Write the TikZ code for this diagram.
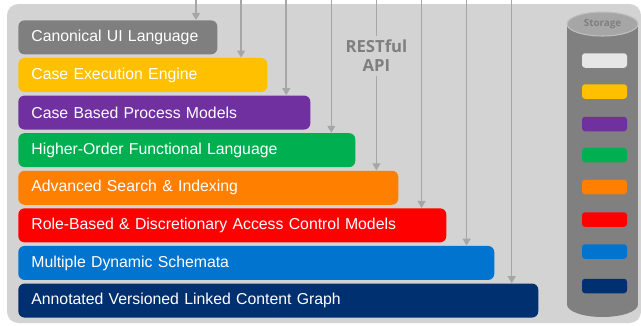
\documentclass[tikz,border=0pt]{standalone}
\usepackage{fontspec}
\setmainfont{Liberation Sans}
\newfontfamily\apifont{Open Sans}
\usetikzlibrary{arrows.meta}
\definecolor{bggray}{HTML}{D3D3D3}
\definecolor{linegray}{HTML}{A6A6A6}
\definecolor{restgray}{HTML}{7F7F7F}
\definecolor{uigray}{HTML}{7F7F7F}
\definecolor{engineyellow}{HTML}{FFC000}
\definecolor{processpurple}{HTML}{7030A0}
\definecolor{funcgreen}{HTML}{00B050}
\definecolor{searchorange}{HTML}{FF8000}
\definecolor{accessred}{HTML}{FF0000}
\definecolor{schemablue}{HTML}{0074CF}
\definecolor{graphnavy}{HTML}{003070}
\definecolor{slotwhite}{HTML}{E6E6E6}
\definecolor{drumgray}{HTML}{808080}
\definecolor{lidgray}{HTML}{A6A6A6}
\definecolor{lidedge}{HTML}{BFBFBF}

\begin{document}
\begin{tikzpicture}[x=0.02cm,y=-0.02cm,
  layer/.style={anchor=north west, rounded corners=3.5pt, text=white, minimum height=0.68cm,
    inner xsep=0.26cm, text width=#1, font=\fontsize{9}{11}\selectfont},
  api/.style={draw=linegray, line width=0.85pt, -{Triangle[length=4pt,width=4.5pt]}},
  slot/.style={rounded corners=1.7pt, minimum width=0.9cm, minimum height=0.29cm, inner sep=0pt}]
  \useasboundingbox (0,0) rectangle (641,325);
  \fill[bggray, rounded corners=6.5pt] (7,4) rectangle (641,323);

  \node[layer=3.46cm, fill=uigray] (ui) at (18,20) {Canonical UI Language};
  \node[layer=4.46cm, fill=engineyellow] (engine) at (18,57.6) {Case Execution Engine};
  \node[layer=5.32cm, fill=processpurple] (process) at (18,95.2) {Case Based Process Models};
  \node[layer=6.22cm, fill=funcgreen] (func) at (18,132.8) {Higher-Order Functional Language};
  \node[layer=7.08cm, fill=searchorange] (search) at (18,170.4) {Advanced Search \& Indexing};
  \node[layer=8.04cm, fill=accessred] (access) at (18,208) {Role-Based \& Discretionary Access Control Models};
  \node[layer=9.00cm, fill=schemablue] (schema) at (18,245.6) {Multiple Dynamic Schemata};
  \node[layer=9.88cm, fill=graphnavy] (graph) at (18,283.2) {Annotated Versioned Linked Content Graph};

  \coordinate (t1) at (196,0);
  \coordinate (t2) at (241.1,0);
  \coordinate (t3) at (286.2,0);
  \coordinate (t4) at (331.3,0);
  \coordinate (t5) at (376.4,0);
  \coordinate (t6) at (421.5,0);
  \coordinate (t7) at (466.6,0);
  \coordinate (t8) at (511.7,0);
  \node[text=restgray, align=center, inner sep=2pt, font=\apifont\bfseries\fontsize{9.5}{10.8}\selectfont] (rest) at (376.4,56) {RESTful\\API};

  \draw[api] (t1) -- (t1 |- ui.north);
  \draw[api] (t2) -- (t2 |- engine.north);
  \draw[api] (t3) -- (t3 |- process.north);
  \draw[api] (t4) -- (t4 |- func.north);
  \draw[draw=linegray, line width=0.85pt] (t5) -- (rest.north);
  \draw[api] (rest.south) -- (t5 |- search.north);
  \draw[api] (t6) -- (t6 |- access.north);
  \draw[api] (t7) -- (t7 |- schema.north);
  \draw[api] (t8) -- (t8 |- graph.north);

  \fill[drumgray] (567,24) rectangle (638,304.5);
  \fill[drumgray] (602.5,304.5) ellipse [x radius=35.5, y radius=12.5];
  \filldraw[fill=lidgray, draw=lidedge, line width=0.6pt] (602.5,24) ellipse [x radius=35.5, y radius=12];
  \node[text=restgray, font=\apifont\bfseries\fontsize{5.6}{6}\selectfont] (store) at (602.5,24) {Storage};

  \node[slot, fill=slotwhite] (s1) at (604.5,60.5) {};
  \node[slot, fill=engineyellow] (s2) at (604.5,91.5) {};
  \node[slot, fill=processpurple] (s3) at (604.5,124) {};
  \node[slot, fill=funcgreen] (s4) at (604.5,155) {};
  \node[slot, fill=searchorange] (s5) at (604.5,187) {};
  \node[slot, fill=accessred] (s6) at (604.5,219.5) {};
  \node[slot, fill=schemablue] (s7) at (604.5,251.5) {};
  \node[slot, fill=graphnavy] (s8) at (604.5,286) {};
\end{tikzpicture}
\end{document}
